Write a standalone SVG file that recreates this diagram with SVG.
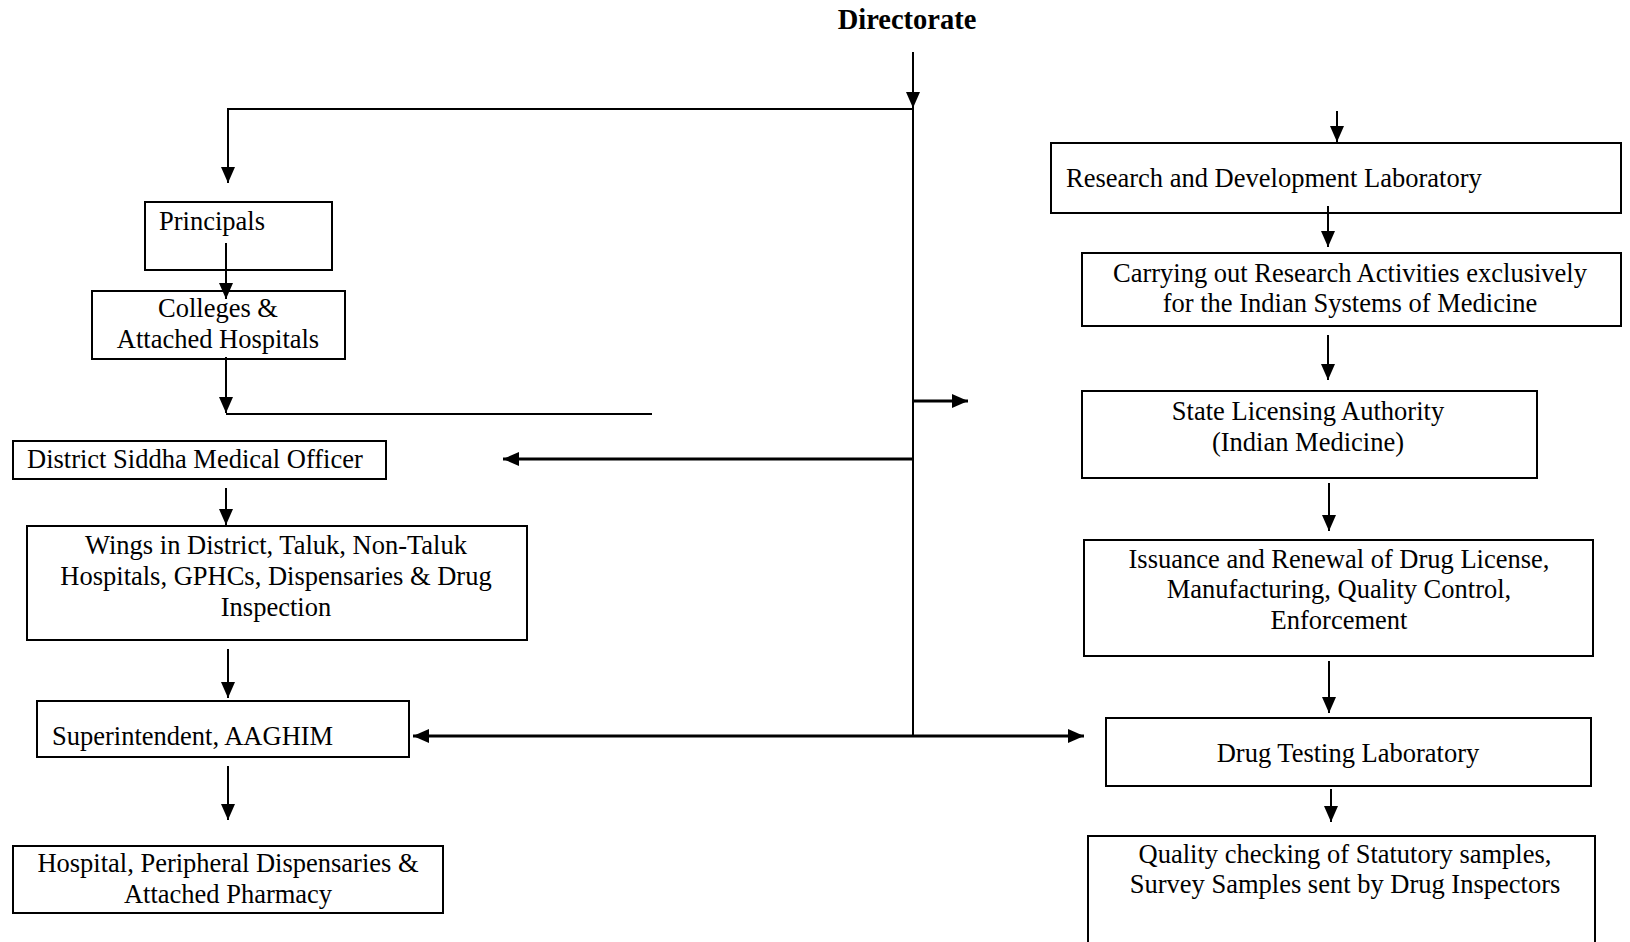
<svg xmlns="http://www.w3.org/2000/svg" width="1630" height="942" viewBox="0 0 1630 942">
<style>
.box{fill:none;stroke:#000;stroke-width:2}
.t{font-family:"Liberation Serif","Times New Roman",serif;font-size:26.5px;fill:#000}
.c{text-anchor:middle}
.ln{fill:none;stroke:#000;stroke-width:2}
.thk{fill:none;stroke:#000;stroke-width:3}
</style>
<defs>
<marker id="ah" markerUnits="userSpaceOnUse" markerWidth="17" markerHeight="14" refX="16" refY="7" orient="auto-start-reverse">
<path d="M0,0 L16,7 L0,14 z" fill="#000"/>
</marker>
</defs>
<rect width="1630" height="942" fill="#fff"/>
<g id="connectors">
<line class="ln" x1="913" y1="52" x2="913" y2="108" marker-end="url(#ah)"/>
<line class="ln" x1="913" y1="108" x2="913" y2="736"/>
<polyline class="ln" points="913,109 228,109 228,183" marker-end="url(#ah)"/>
<line class="ln" x1="226" y1="243" x2="226" y2="299" marker-end="url(#ah)"/>
<line class="ln" x1="226" y1="357" x2="226" y2="413" marker-end="url(#ah)"/>
<line class="ln" x1="226" y1="414" x2="652" y2="414"/>
<line class="thk" x1="913" y1="401" x2="968" y2="401" marker-end="url(#ah)"/>
<line class="thk" x1="913" y1="459" x2="503" y2="459" marker-end="url(#ah)"/>
<line class="ln" x1="226" y1="488" x2="226" y2="525" marker-end="url(#ah)"/>
<line class="ln" x1="228" y1="649" x2="228" y2="698" marker-end="url(#ah)"/>
<line class="thk" x1="413" y1="736" x2="1084" y2="736" marker-start="url(#ah)" marker-end="url(#ah)"/>
<line class="ln" x1="228" y1="766" x2="228" y2="820" marker-end="url(#ah)"/>
<line class="ln" x1="1337" y1="111" x2="1337" y2="142" marker-end="url(#ah)"/>
<line class="ln" x1="1328" y1="206" x2="1328" y2="247" marker-end="url(#ah)"/>
<line class="ln" x1="1328" y1="335" x2="1328" y2="380" marker-end="url(#ah)"/>
<line class="ln" x1="1329" y1="483" x2="1329" y2="531" marker-end="url(#ah)"/>
<line class="ln" x1="1329" y1="661" x2="1329" y2="713" marker-end="url(#ah)"/>
<line class="ln" x1="1331" y1="789" x2="1331" y2="822" marker-end="url(#ah)"/>
</g>
<g id="directorate">
<text class="t c" x="907" y="29" style="font-weight:bold;font-size:28.5px">Directorate</text>
</g>
<g id="principals">
<rect class="box" x="145" y="202" width="187" height="68"/>
<text class="t" x="159" y="230">Principals</text>
</g>
<g id="colleges">
<rect class="box" x="92" y="291" width="253" height="68"/>
<text class="t c" x="218" y="317">Colleges &amp;</text>
<text class="t c" x="218" y="348">Attached Hospitals</text>
</g>
<g id="dsmo">
<rect class="box" x="13" y="441" width="373" height="38"/>
<text class="t" x="27" y="468">District Siddha Medical Officer</text>
</g>
<g id="wings">
<rect class="box" x="27" y="526" width="500" height="114"/>
<text class="t c" x="276" y="554">Wings in District, Taluk, Non-Taluk</text>
<text class="t c" x="276" y="585">Hospitals, GPHCs, Dispensaries &amp; Drug</text>
<text class="t c" x="276" y="616">Inspection</text>
</g>
<g id="superintendent">
<rect class="box" x="37" y="701" width="372" height="56"/>
<text class="t" x="52" y="745">Superintendent, AAGHIM</text>
</g>
<g id="hospital">
<rect class="box" x="13" y="846" width="430" height="67"/>
<text class="t c" x="228" y="872">Hospital, Peripheral Dispensaries &amp;</text>
<text class="t c" x="228" y="903">Attached Pharmacy</text>
</g>
<g id="rnd">
<rect class="box" x="1051" y="143" width="570" height="70"/>
<text class="t" x="1066" y="187">Research and Development Laboratory</text>
</g>
<g id="research">
<rect class="box" x="1082" y="253" width="539" height="73"/>
<text class="t c" x="1350" y="282">Carrying out Research Activities exclusively</text>
<text class="t c" x="1350" y="312">for the Indian Systems of Medicine</text>
</g>
<g id="sla">
<rect class="box" x="1082" y="391" width="455" height="87"/>
<text class="t c" x="1308" y="420">State Licensing Authority</text>
<text class="t c" x="1308" y="451">(Indian Medicine)</text>
</g>
<g id="issuance">
<rect class="box" x="1084" y="540" width="509" height="116"/>
<text class="t c" x="1339" y="568">Issuance and Renewal of Drug License,</text>
<text class="t c" x="1339" y="598">Manufacturing, Quality Control,</text>
<text class="t c" x="1339" y="629">Enforcement</text>
</g>
<g id="dtl">
<rect class="box" x="1106" y="718" width="485" height="68"/>
<text class="t c" x="1348" y="762">Drug Testing Laboratory</text>
</g>
<g id="quality">
<rect class="box" x="1088" y="836" width="507" height="120"/>
<text class="t c" x="1345" y="863">Quality checking of Statutory samples,</text>
<text class="t c" x="1345" y="893">Survey Samples sent by Drug Inspectors</text>
</g>
</svg>
